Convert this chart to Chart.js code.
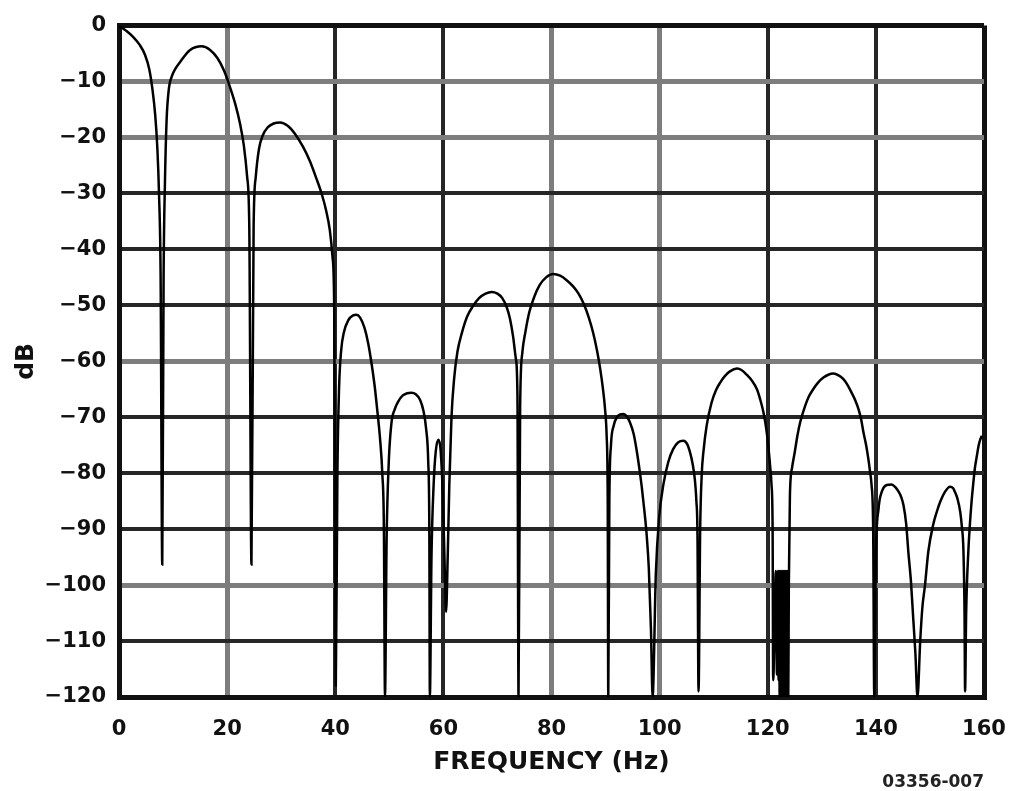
<!DOCTYPE html>
<html lang="en">
<head>
    <meta charset="UTF-8">
    <title>Filter Frequency Response</title>
    <style>
        body {
            margin: 0;
            background-color: #ffffff;
        }

        .chart-container {
            width: 1011px;
            height: 791px;
        }
    </style>
</head>
<body>

<div class="chart-container">
    <canvas id="responseChart"></canvas>
</div>

<script src="https://cdn.jsdelivr.net/npm/chart.js"></script>
<script>
    // Frequency (Hz) of each point
    const freqHz = [
        // main lobe and first null
        0, 1.3, 2.6, 3.8, 4.8, 5.6, 6.2, 6.7, 7.1, 7.4, 7.7, 8.0,
        8.25, 8.5, 8.8, 9.2, 9.8, 10.5, 11.3, 13.1, 15.3, 16.8, 18.2, 19.4, 20.5, 21.5, 22.4, 23.1, 23.7, 24.1, 24.5,
        24.9, 25.3, 25.9, 26.6, 27.5, 28.6, 29.8, 31.2, 32.6, 34.0, 35.3, 36.5, 37.5, 38.3, 39.0, 39.5, 39.8, 40.1,
        40.4, 40.7, 41.1, 41.6, 42.4, 43.3, 43.9, 44.6, 45.4, 46.1, 46.7, 47.3, 47.8, 48.3, 48.7, 49.0, 49.2,
        49.5, 49.9, 50.4, 51.0, 51.7, 52.5, 53.3, 54.1, 54.9, 55.7, 56.3, 56.8, 57.2, 57.4, 57.5,
        57.8, 58.2, 58.6, 59.1, 59.5, 59.9, 60.2, 60.5,
        60.8, 61.1, 61.5, 62.0, 62.6, 63.4, 64.4, 65.5, 66.6, 67.8, 68.9, 70.0, 70.9, 71.7, 72.3, 72.9, 73.4, 73.7, 73.9,
        74.2, 74.6, 75.2, 75.9, 76.8, 77.8, 79.0, 80.3, 81.6, 82.8, 84.0, 85.0, 86.0, 86.9, 87.7, 88.4, 89.0, 89.5, 89.9, 90.2, 90.4, 90.5,
        90.7, 91.0, 91.5, 92.1, 92.7, 93.3, 93.9, 94.5, 95.2, 95.8, 96.3, 96.7, 97.1, 97.6, 98.0, 98.4, 98.7,
        99.3, 99.9, 100.7, 101.6, 102.5, 103.4, 104.4, 105.1, 105.6, 106.1, 106.5, 106.8, 107.0, 107.2,
        107.5, 107.8, 108.1, 108.7, 109.6, 110.4, 111.2, 112.1, 113.0, 114.3, 115.2, 116.1, 117.1, 118.0, 118.6, 119.2, 119.7, 120.1, 120.4, 120.7, 120.9, 121.0,
        // dense ringing around 122 Hz
        121.5, 121.7, 121.9, 122.0, 122.1, 122.2, 122.3, 122.4, 122.5, 122.6, 122.7, 122.8, 122.9,
        123.0, 123.1, 123.2, 123.3, 123.4, 123.5, 123.6, 123.7, 123.8, 123.9,
        124.1, 124.5, 125.0, 125.5, 126.0, 126.9, 127.6, 128.4, 129.3, 130.3, 131.2, 132.1, 133.1, 134.0, 134.8, 135.5, 136.2, 136.8, 137.3, 137.7, 138.2, 138.6, 138.9, 139.2, 139.5, 139.7,
        140.0, 140.5, 141.1, 142.0, 142.9, 143.6, 144.2, 144.7, 145.1, 145.6, 146.0, 146.5, 146.9, 147.3, 147.7,
        148.2, 148.6, 149.1, 149.7, 150.6, 151.3, 151.9, 152.8, 153.7, 154.3, 154.6, 155.1, 155.6, 155.9, 156.2, 156.4, 156.5,
        156.7, 157.1, 157.4, 157.7, 158.0, 158.3, 158.7, 159.0, 159.3, 159.6
    ];

    // Attenuation (dB) at each of those frequencies
    const levelDb = [
        0, -0.9, -2.0, -3.4, -5.2, -7.8, -11.5, -16, -22, -30, -45, -96.3,
        -45, -28, -17, -11.5, -9, -7.6, -6.5, -4.4, -3.7, -4.3, -5.8, -8.0, -10.9, -14.0, -17.6, -21.5, -27, -36, -96.3,
        -36, -27, -22, -19.6, -18.2, -17.5, -17.3, -17.9, -19.4, -21.6, -24.2, -27.3, -30.1, -33, -36.6, -41.4, -50, -118,
        -80, -65, -58, -54.8, -52.7, -51.8, -51.7, -52.2, -54, -56.8, -60.3, -64.5, -69, -74, -80, -90, -120,
        -92, -78, -71, -68.6, -67.1, -66.1, -65.7, -65.6, -65.9, -66.9, -68.8, -72, -78, -90, -120,
        -95, -82, -76, -74, -76, -84, -95, -104.8,
        -95, -82, -70, -63, -58.3, -55, -52, -50.1, -48.7, -47.9, -47.6, -47.9, -48.7, -50.3, -52.3, -55.6, -59.5, -66, -120,
        -68, -58.5, -54.6, -51.2, -48.5, -46.4, -45, -44.4, -44.7, -45.5, -46.6, -47.9, -49.8, -52.2, -54.9, -58, -61.3, -64.8, -68.5, -73.3, -85, -120,
        -85, -75, -71.5, -70, -69.5, -69.4, -69.8, -70.9, -73, -76.2, -79.5, -82.5, -86, -91, -97, -108, -120,
        -98, -88, -82, -78, -75.7, -74.5, -74.2, -74.8, -76.2, -78.3, -81, -85, -91, -119,
        -90, -80, -76.2, -71.5, -67.4, -65.2, -63.8, -62.6, -61.8, -61.3, -61.6, -62.4, -63.5, -65, -66.8, -69.1, -71.9, -75.1, -78.3, -82.1, -90, -117,
        -97.5, -116, -97.5, -117, -97.5, -120, -97.5, -120, -97.5, -120, -97.5, -120, -97.5,
        -120, -97.5, -120, -97.5, -120, -97.5, -120, -97.5, -120, -100,
        -84, -79, -76.2, -73.2, -70.9, -68, -66.3, -65, -63.8, -62.9, -62.4, -62.2, -62.5, -63.2, -64.3, -65.6, -67, -68.6, -70.5, -72.7, -75, -77.4, -79.6, -82.1, -90, -120,
        -95, -86.3, -83.3, -82.1, -82.0, -82.5, -83.3, -84.3, -85.7, -89, -94, -99.5, -105.8, -112, -120,
        -110, -104, -99.9, -94, -89.2, -86.8, -85.1, -83.3, -82.4, -82.7, -83.3, -84.6, -86.9, -89.5, -94, -105, -119,
        -105, -94, -89, -85.1, -82, -79.2, -76.8, -75.1, -74, -73.3
    ];

    const axisFont = { family: 'DejaVu Sans', weight: 'bold', size: 21 };
    const titleFont = { family: 'DejaVu Sans', weight: 'bold', size: 25 };

    // Some grid lines print lighter than others on the original sheet
    const lightX = [20, 80, 100];
    const lightY = [-10, -20, -60, -100];

    function gridStyle(light, edges) {
        return {
            color: ctx => edges.includes(ctx.tick.value) ? '#111' : (light.includes(ctx.tick.value) ? '#7d7d7d' : '#262626'),
            lineWidth: ctx => edges.includes(ctx.tick.value) ? 5 : (light.includes(ctx.tick.value) ? 5 : 4),
            drawTicks: false
        };
    }

    // Figure number in the bottom right corner
    const figureLabel = {
        id: 'figureLabel',
        afterDraw(chart) {
            const ctx = chart.ctx;
            ctx.save();
            ctx.font = 'bold 17px "DejaVu Sans"';
            ctx.fillStyle = '#222';
            ctx.textAlign = 'right';
            ctx.textBaseline = 'bottom';
            ctx.fillText('03356-007', 984, 791);
            ctx.restore();
        }
    };

    const config = {
        type: 'line',
        data: {
            datasets: [{
                data: freqHz.map((f, i) => ({ x: f, y: levelDb[i] })),
                borderColor: '#000',
                borderWidth: 2.5,
                pointRadius: 0,
                cubicInterpolationMode: 'monotone',
                fill: false
            }]
        },
        options: {
            responsive: true,
            maintainAspectRatio: false,
            animation: false,
            layout: {
                padding: { left: 0, right: 27, top: 20, bottom: 0 }
            },
            plugins: {
                legend: { display: false },
                tooltip: { enabled: false }
            },
            scales: {
                x: {
                    type: 'linear',
                    min: 0,
                    max: 160,
                    afterFit: scale => {
                        scale.height = 94;
                        // let the "160" label hang past the plot edge
                        scale.paddingLeft = 0;
                        scale.paddingRight = 0;
                    },
                    ticks: {
                        stepSize: 20,
                        padding: 20,
                        color: '#111',
                        font: axisFont
                    },
                    grid: gridStyle(lightX, [0, 160]),
                    border: { display: true, color: '#111', width: 5 },
                    title: {
                        display: true,
                        text: 'FREQUENCY (Hz)',
                        color: '#111',
                        font: titleFont,
                        padding: { top: 0, bottom: 14 }
                    }
                },
                y: {
                    min: -120,
                    max: 0,
                    afterFit: scale => { scale.width = 119; },
                    ticks: {
                        stepSize: 10,
                        padding: 13,
                        color: '#111',
                        font: axisFont,
                        callback: value => value < 0 ? '\u2212' + Math.abs(value) : '0'
                    },
                    grid: gridStyle(lightY, [0, -120]),
                    border: { display: true, color: '#111', width: 5 },
                    title: {
                        display: true,
                        text: 'dB',
                        color: '#111',
                        font: titleFont,
                        padding: { top: 11, bottom: 0 }
                    }
                }
            }
        },
        plugins: [figureLabel]
    };

    const responseChart = new Chart(
        document.getElementById('responseChart'),
        config
    );
</script>

</body>
</html>
